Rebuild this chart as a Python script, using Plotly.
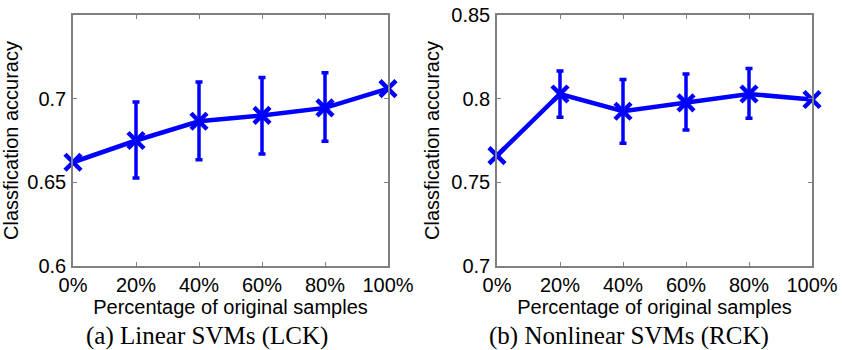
import plotly.graph_objects as go

# ---- data ----
pct = [0, 20, 40, 60, 80, 100]
pct_labels = ["0%", "20%", "40%", "60%", "80%", "100%"]

lck_acc = [0.662, 0.675, 0.6865, 0.690, 0.6945, 0.706]
lck_upper = [0.662, 0.698, 0.710, 0.7127, 0.7155, 0.706]
lck_lower = [0.662, 0.6526, 0.6635, 0.667, 0.6746, 0.706]

rck_acc = [0.766, 0.8028, 0.7925, 0.7975, 0.8028, 0.7995]
rck_upper = [0.766, 0.8165, 0.8115, 0.8147, 0.818, 0.7995]
rck_lower = [0.766, 0.7889, 0.7734, 0.7813, 0.7883, 0.7995]

lck_yticks = [0.6, 0.65, 0.7]
rck_yticks = [0.7, 0.75, 0.8, 0.85]

captions = ["(a) Linear SVMs (LCK)", "(b) Nonlinear SVMs (RCK)"]
x_title = "Percentage of original samples"
y_title = "Classfication accuracy"

BLUE = "rgb(0,0,255)"
GRAY = "rgb(128,128,128)"
SANS = "Liberation Sans, Arial, sans-serif"
SERIF = "Liberation Serif, Times New Roman, serif"

fig = go.Figure()


def add_series(acc, up, lo, xa, ya):
    plus = [u - a for u, a in zip(up, acc)]
    minus = [a - l for a, l in zip(acc, lo)]
    fig.add_trace(go.Scatter(
        x=pct, y=acc, xaxis=xa, yaxis=ya,
        mode="lines+markers",
        line=dict(color=BLUE, width=4.5),
        marker=dict(symbol="x-thin", size=16, color=BLUE,
                    line=dict(color=BLUE, width=4.5)),
        error_y=dict(type="data", symmetric=False, array=plus, arrayminus=minus,
                     color=BLUE, thickness=3.5, width=3.5),
        cliponaxis=False, showlegend=False,
    ))


add_series(lck_acc, lck_upper, lck_lower, "x", "y")
add_series(rck_acc, rck_upper, rck_lower, "x2", "y2")

axis_common = dict(
    showline=True, linecolor=GRAY, linewidth=1.5, mirror="ticks",
    ticks="inside", ticklen=4, tickcolor=GRAY, tickwidth=1,
    showgrid=False, zeroline=False, automargin=False,
    tickfont=dict(family=SANS, size=20, color="black"),
)

xaxis_common = dict(axis_common, tickmode="array", tickvals=pct, ticktext=pct_labels,
                    range=[0, 100],
                    title=dict(text=x_title, font=dict(family=SANS, size=20, color="black"),
                               standoff=0))

yaxis_common = dict(axis_common, domain=[0, 1], ticklabelstandoff=1, tickmode="array",
                    title=dict(text=y_title, font=dict(family=SANS, size=20, color="black"),
                               standoff=6))

fig.update_layout(
    width=842, height=350,
    margin=dict(l=0, r=0, t=15, b=84),
    paper_bgcolor="white", plot_bgcolor="white",
    xaxis=dict(xaxis_common, domain=[73 / 842, 388 / 842], anchor="y"),
    xaxis2=dict(xaxis_common, domain=[497 / 842, 812 / 842], anchor="y2"),
    yaxis=dict(yaxis_common, anchor="x", range=[0.6, 0.75],
               tickvals=lck_yticks, ticktext=["0.6", "0.65", "0.7"]),
    yaxis2=dict(yaxis_common, anchor="x2", range=[0.7, 0.85],
                tickvals=rck_yticks, ticktext=["0.7", "0.75", "0.8", "0.85"]),
)

plot_h = 350 - 15 - 84
for cap, xc in zip(captions, [207 / 842, 629 / 842]):
    fig.add_annotation(text=cap, xref="paper", yref="paper", x=xc, y=(266 - 336) / plot_h,
                       showarrow=False, yanchor="middle", xanchor="center",
                       font=dict(family=SERIF, size=25, color="black"))

fig.write_html("out.html", config={"displayModeBar": False},
               post_script="document.body.style.margin='0';document.body.style.overflow='hidden';")
